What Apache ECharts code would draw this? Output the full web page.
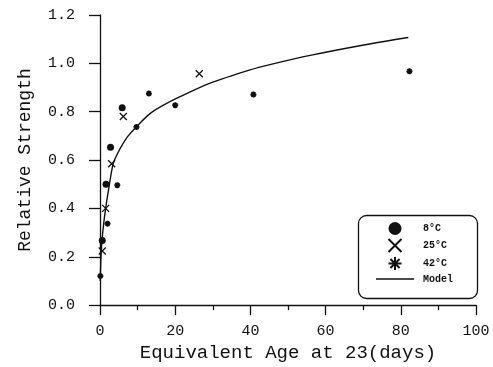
<!DOCTYPE html>
<html>
<head>
<meta charset="utf-8">
<script src="https://cdn.jsdelivr.net/npm/echarts@6/dist/echarts.min.js"></script>
<style>
  html, body { margin: 0; padding: 0; background: #fff; }
  #chart { width: 493px; height: 367px; }
</style>
</head>
<body>
<div id="chart"></div>
<script>
// values: [equivalent age (days), relative strength]
const cold8 = [[0.6, 0.267], [1.6, 0.50], [2.8, 0.653], [5.9, 0.816]];
const mid25 = [[0.6, 0.224], [1.5, 0.40], [3.1, 0.585], [6.2, 0.78], [26.4, 0.957]];
const hot42 = [[0.1, 0.12], [2.0, 0.337], [4.6, 0.496], [9.7, 0.737], [13.0, 0.875],
               [20.0, 0.827], [40.8, 0.871], [82.3, 0.967]];
const modelCurve = [[0.05, 0.10], [0.3, 0.21], [0.6, 0.28], [1.0, 0.34], [1.5, 0.40],
                    [2.2, 0.47], [3.5, 0.585], [4.6, 0.625], [5.8, 0.66], [7.5, 0.70],
                    [9.7, 0.738], [13.3, 0.792], [17.0, 0.828], [21.3, 0.862], [29.3, 0.918],
                    [39.9, 0.973], [45.2, 0.995], [55.9, 1.033], [69.1, 1.073], [82.0, 1.107]];
const seriesNames = ['8°C', '25°C', '42°C', 'Model'];
const yTicks = [0, 0.2, 0.4, 0.6, 0.8, 1.0, 1.2];

const crossPath = 'path://M0,0 L10,10 M10,0 L0,10';
const starPath = 'path://M5,0 L5,10 M0,5 L10,5 M1.5,1.5 L8.5,8.5 M8.5,1.5 L1.5,8.5';
const dashPath = 'path://M0,0 L38,0 L38,1.3 L0,1.3 Z';
const monoFont = '"Liberation Mono", "DejaVu Sans Mono", monospace';

const chart = echarts.init(document.getElementById('chart'));

const option = {
  backgroundColor: '#fff',
  animation: false,
  grid: { left: 100, right: 17, top: 15, bottom: 52 },
  xAxis: {
    type: 'value',
    min: 0,
    max: 100,
    interval: 20,
    name: 'Equivalent Age at 23(days)',
    nameLocation: 'middle',
    nameGap: 28,
    nameTextStyle: { fontFamily: monoFont, fontSize: 19, color: '#111' },
    axisLine: { onZero: false, lineStyle: { color: '#111', width: 1.3 } },
    axisTick: { length: 10, lineStyle: { color: '#111', width: 1.3 } },
    minorTick: { show: true, splitNumber: 2, length: 5, lineStyle: { color: '#111', width: 1.3 } },
    axisLabel: { margin: 18, fontFamily: monoFont, fontSize: 15, color: '#111' },
    splitLine: { show: false }
  },
  yAxis: {
    type: 'value',
    min: 0,
    max: 1.2,
    interval: 0.2,
    name: 'Relative Strength',
    nameLocation: 'middle',
    nameGap: 66,
    nameTextStyle: { fontFamily: monoFont, fontSize: 18, color: '#111' },
    axisLine: { onZero: false, lineStyle: { color: '#111', width: 1.3 } },
    axisTick: { length: 11, lineStyle: { color: '#111', width: 1.3 } },
    axisLabel: {
      margin: 25,
      fontFamily: monoFont,
      fontSize: 15,
      color: '#111',
      formatter: v => yTicks.includes(Math.round(v * 10) / 10) ? v.toFixed(1) : ''
    },
    splitLine: { show: false }
  },
  legend: {
    orient: 'vertical',
    left: 376,
    top: 222,
    padding: 0,
    itemWidth: 38,
    itemHeight: 13,
    itemGap: 3,
    textStyle: { fontFamily: monoFont, fontSize: 10, fontWeight: 'bold', color: '#111', padding: [0, 0, 0, 4] },
    data: [
      { name: seriesNames[0], icon: 'circle' },
      { name: seriesNames[1], icon: crossPath },
      { name: seriesNames[2], icon: starPath },
      { name: seriesNames[3], icon: dashPath }
    ]
  },
  graphic: [{
    type: 'rect',
    left: 356,
    top: 213,
    shape: { width: 119, height: 83, r: 8 },
    style: { fill: 'none', stroke: '#111', lineWidth: 1.3 },
    silent: true
  }],
  series: [
    {
      name: seriesNames[3],
      type: 'line',
      data: modelCurve,
      smooth: 0.3,
      showSymbol: false,
      symbol: 'none',
      symbolKeepAspect: true,
      z: 1,
      lineStyle: { color: '#111', width: 1.4 },
      itemStyle: { color: '#111' }
    },
    {
      name: seriesNames[0],
      type: 'scatter',
      data: cold8,
      symbol: 'circle',
      symbolSize: 7,
      z: 3,
      itemStyle: { color: '#111', opacity: 1 }
    },
    {
      name: seriesNames[1],
      type: 'scatter',
      data: mid25,
      symbol: crossPath,
      symbolSize: 7,
      symbolKeepAspect: true,
      z: 3,
      itemStyle: { color: '#111', borderColor: '#111', borderWidth: 1.3, opacity: 1 }
    },
    {
      name: seriesNames[2],
      type: 'scatter',
      data: hot42,
      symbol: starPath,
      symbolSize: 6,
      symbolKeepAspect: true,
      z: 3,
      itemStyle: { color: '#111', borderColor: '#111', borderWidth: 1.8, opacity: 1 }
    }
  ]
};

chart.setOption(option);
</script>
</body>
</html>
